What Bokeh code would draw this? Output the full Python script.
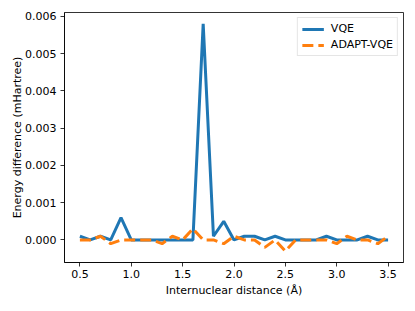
from bokeh.plotting import figure
from bokeh.models import Range1d, FixedTicker, NumeralTickFormatter, Legend, LegendItem
from bokeh.embed import file_html
from bokeh.resources import INLINE

distance = [0.5, 0.6, 0.7, 0.8, 0.9, 1.0, 1.1, 1.2, 1.3, 1.4, 1.5, 1.6, 1.7, 1.8, 1.9, 2.0,
            2.1, 2.2, 2.3, 2.4, 2.5, 2.6, 2.7, 2.8, 2.9, 3.0, 3.1, 3.2, 3.3, 3.4, 3.5]
vqe = [0.0001, 0.0, 0.0001, 0.0, 0.0006, 0.0, 0.0, 0.0, 0.0, 0.0, 0.0, 0.0, 0.0058, 0.0001, 0.0005, 0.0,
       0.0001, 0.0001, 0.0, 0.0001, 0.0, 0.0, 0.0, 0.0, 0.0001, 0.0, 0.0, 0.0, 0.0001, 0.0, 0.0]
adapt_vqe = [0.0, 0.0, 0.0001, -0.0001, 0.0, 0.0, 0.0, 0.0, -0.0001, 0.0001, 0.0, 0.0003, 0.0, 0.0, -0.0001, 0.0001,
             0.0, 0.0, -0.0002, 0.0, -0.0003, 0.0, 0.0, 0.0, 0.0, -0.0001, 0.0001, 0.0, 0.0, -0.0001, 0.0001]
x_ticks = [0.5, 1.0, 1.5, 2.0, 2.5, 3.0, 3.5]
y_ticks = [0.0, 0.001, 0.002, 0.003, 0.004, 0.005, 0.006]

FONT = "DejaVu Sans"
FS = "11px"

p = figure(frame_width=339, frame_height=250, output_backend="svg", toolbar_location=None,
           min_border_left=64, min_border_top=12, min_border_right=11, min_border_bottom=48,
           x_range=Range1d(0.35, 3.65), y_range=Range1d(-0.000605, 0.006105))
p.grid.visible = False
p.outline_line_color = "black"
p.outline_line_width = 0.8

r1 = p.line(distance, vqe, line_color="#1f77b4", line_width=3)
r2 = p.line(distance, adapt_vqe, line_color="#ff7f0e", line_width=3, line_dash="11 5")

p.xaxis.ticker = FixedTicker(ticks=x_ticks)
p.yaxis.ticker = FixedTicker(ticks=y_ticks)
p.xaxis.formatter = NumeralTickFormatter(format="0.0")
p.yaxis.formatter = NumeralTickFormatter(format="0.000")
p.xaxis.axis_label = "Internuclear distance (Å)"
p.yaxis.axis_label = "Energy difference (mHartree)"
for ax in (p.xaxis[0], p.yaxis[0]):
    ax.major_label_text_font = FONT
    ax.major_label_text_font_size = FS
    ax.major_label_text_color = "black"
    ax.axis_label_text_font = FONT
    ax.axis_label_text_font_size = FS
    ax.axis_label_text_font_style = "normal"
    ax.axis_label_text_color = "black"
    ax.axis_line_color = "black"
    ax.axis_line_width = 0.8
    ax.major_tick_line_color = "black"
    ax.major_tick_line_width = 0.8
    ax.major_tick_out = 4
    ax.major_tick_in = 0
    ax.minor_tick_line_color = None
p.xaxis.major_label_standoff = 3
p.xaxis.axis_label_standoff = 3
p.yaxis.major_label_standoff = 4
p.yaxis.axis_label_standoff = -2

legend = Legend(items=[LegendItem(label="VQE", renderers=[r1]),
                       LegendItem(label="ADAPT-VQE", renderers=[r2])],
                location="top_right")
legend.label_text_font = FONT
legend.label_text_font_size = FS
legend.label_text_color = "black"
legend.border_line_color = "#cccccc"
legend.border_line_width = 0.8
legend.background_fill_alpha = 0.8
legend.glyph_width = 22
legend.glyph_height = 12
legend.label_height = 12
legend.label_standoff = 7
legend.spacing = 3
legend.padding = 4
legend.margin = 5
p.add_layout(legend)

open("out.html", "w").write(file_html(p, INLINE))
